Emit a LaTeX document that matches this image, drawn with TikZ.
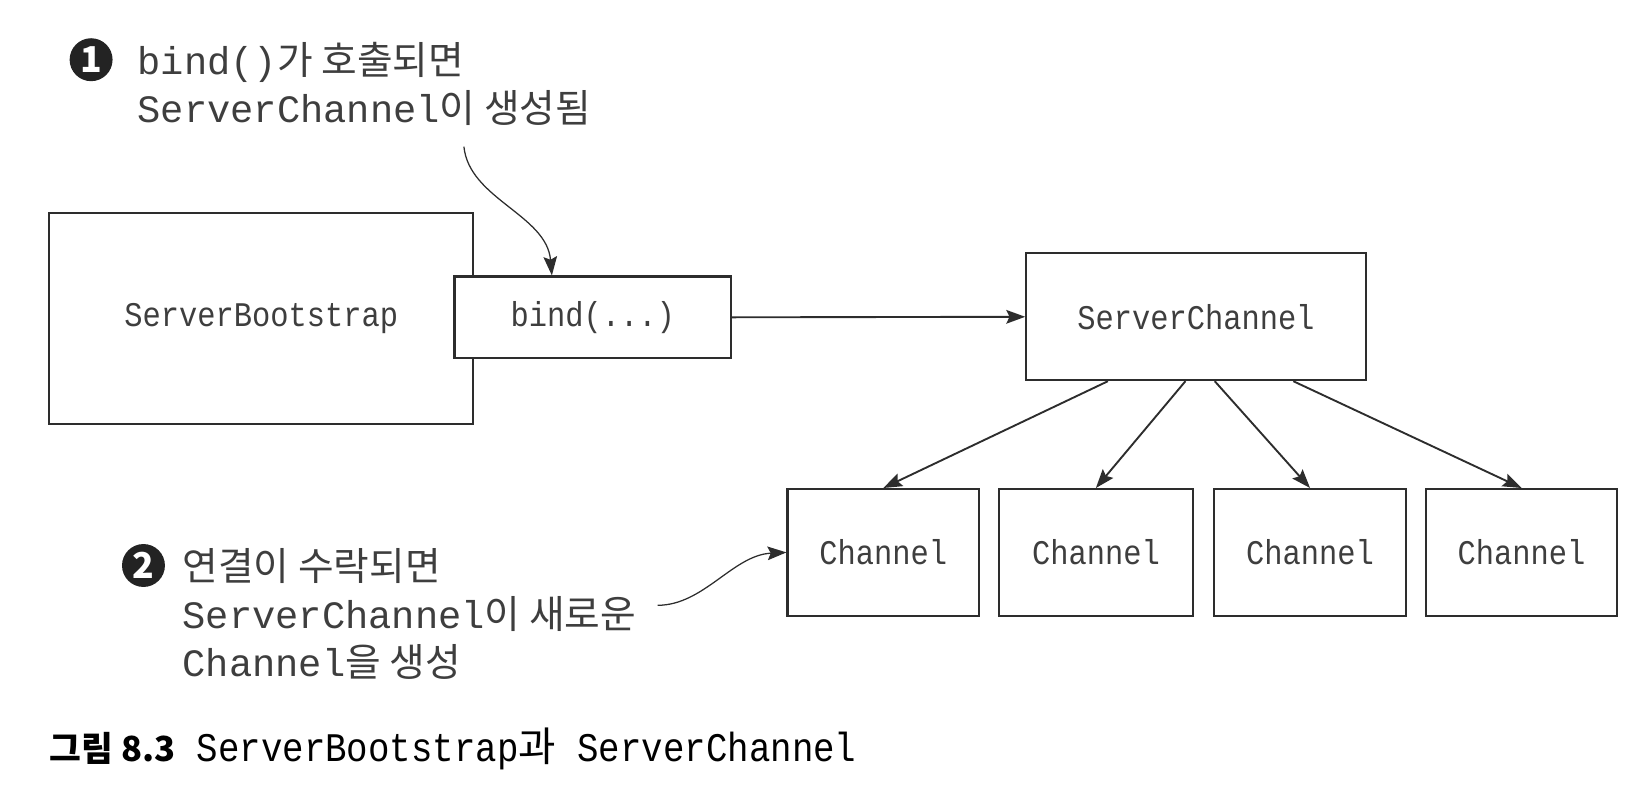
\documentclass[tikz,border=0pt]{standalone}
\usepackage{fontspec}
\usepackage{tikz}
\usetikzlibrary{positioning,arrows.meta}
\newfontfamily\codefont{Liberation Mono}[FakeStretch=0.88]
\newfontfamily\notefont{Liberation Mono}
\newfontfamily\krfont{Noto Sans CJK KR}
\newcommand\ko[1]{{\krfont #1}}

\begin{document}
\begin{tikzpicture}[x=0.5pt,y=-0.5pt,
  box/.style={draw=linegray, line width=1pt, fill=white, text=inkgray, inner sep=0pt,
    minimum height=60.5pt, font=\fontsize{16.5}{20}\selectfont\codefont},
  arr/.style={draw=linegray, line width=0.9pt, -{Stealth[length=9pt,width=6.5pt,inset=1.5pt]}},
  curv/.style={draw=linegray, line width=0.6pt, -{Stealth[length=9pt,width=6.5pt,inset=1.5pt]}},
  note/.style={align=left, inner sep=0pt, text=inkgray, font=\fontsize{18.5}{23}\selectfont\notefont},
  num/.style={circle, fill=numblack, text=white, inner sep=0pt, minimum size=20.5pt,
    font=\fontsize{17}{17}\selectfont\krfont\bfseries}]
\definecolor{linegray}{RGB}{45,45,45}
\definecolor{inkgray}{RGB}{62,62,62}
\definecolor{numblack}{RGB}{35,35,35}
\useasboundingbox (0,0) rectangle (1568,752);
%% Boxes
\node[box, minimum width=202.5pt, minimum height=101pt] (boot) at (249.5,304) {ServerBootstrap};
\node[box, minimum width=132pt, minimum height=39pt] (bind) at (566,303) {bind(...)};
\node[box, minimum width=162pt] (sch) at (1142,302.5) {ServerChannel};
\node[box, minimum width=91.5pt] (ch1) at (843.5,527.5) {Channel};
\node[box, minimum width=92.5pt, right=8.5pt of ch1] (ch2) {Channel};
\node[box, minimum width=92pt, right=9pt of ch2] (ch3) {Channel};
\node[box, minimum width=91pt, right=8.5pt of ch3] (ch4) {Channel};
%% Arrows
\draw[arr] (bind.east) -- (sch.west);
\draw[arr] ([xshift=-42pt]sch.south) -- (ch1.north);
\draw[arr] ([xshift=-5pt]sch.south) -- (ch2.north);
\draw[arr] ([xshift=9pt]sch.south) -- (ch3.north);
\draw[arr] ([xshift=46.5pt]sch.south) -- (ch4.north);
%% Notes
\node[num] (n1) at (87,57) {1};
\node[note, anchor=west] (note1) at (131,80) {bind()\ko{가 호출되면}\\
  ServerChannel\ko{이 생성됨}};
\coordinate (c1) at (443,140);
\draw[curv] (c1) .. controls (448,190) and (522,205) .. ([xshift=-19.5pt]bind.north);
\node[num] (n2) at (137,540) {2};
\node[note, anchor=west] (note2) at (174,586) {\ko{연결이 수락되면}\\
  ServerChannel\ko{이 새로운}\\
  Channel\ko{을 생성}};
\coordinate (c2) at (628,578);
\draw[curv] (c2) .. controls (672,578) and (700,530) .. (ch1.west);
%% Caption
\node[anchor=west, inner sep=0pt, font=\fontsize{19.4}{24}\selectfont] (cap) at (47,715)
  {\ko{\fontsize{16.5}{20}\selectfont\bfseries 그림 8.3}{\codefont\ ServerBootstrap}\ko{과}{\codefont\ ServerChannel}};
\end{tikzpicture}
\end{document}
